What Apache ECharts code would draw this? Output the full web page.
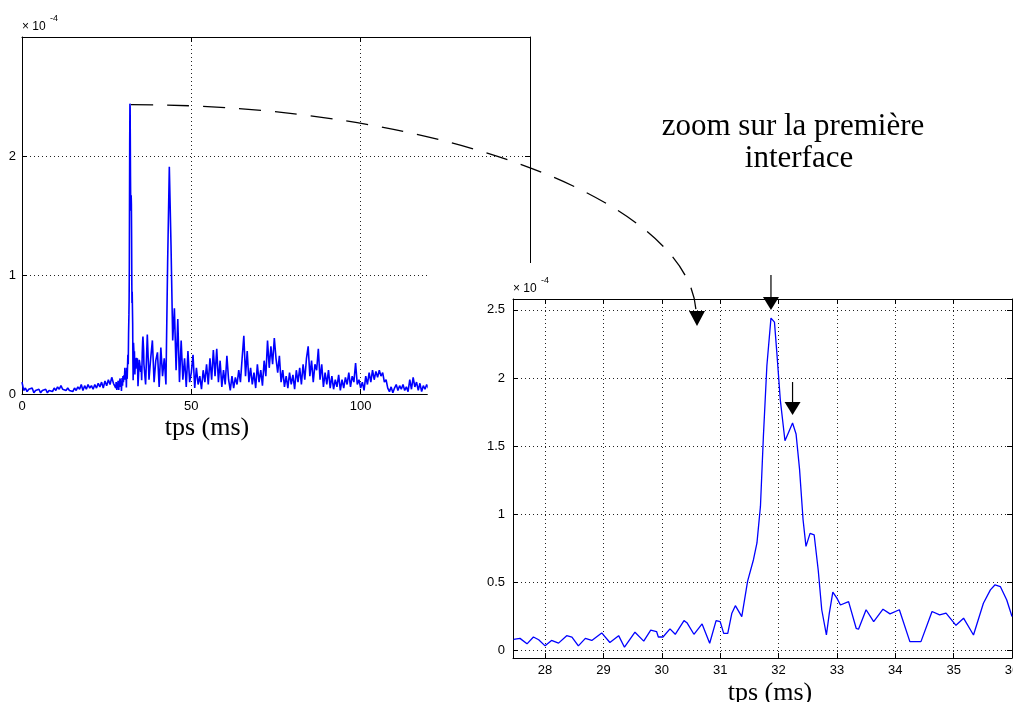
<!DOCTYPE html>
<html><head><meta charset="utf-8">
<script src="https://cdn.jsdelivr.net/npm/echarts@6/dist/echarts.min.js"></script>
<style>html,body{margin:0;padding:0;background:#fff}#c{width:1013px;height:702px}</style>
</head><body><div id="c"></div>
<script>
// ---------- data (values in units of 1e-4) ----------
const leftStep = 0.5;          // sampling step (ms) of the read-off full trace
const leftEarlyStart = 0;      // 0 .. 27 ms
const leftEarly = [
  0.10,0.03,0.05,0.02,0.04,0.03,0.05,0.01,0.03,0.02,
  0.04,0.01,0.03,0.02,0.04,0.01,0.03,0.04,0.02,0.05,
  0.03,0.06,0.04,0.07,0.04,0.05,0.03,0.05,0.03,0.04,
  0.02,0.05,0.03,0.06,0.04,0.08,0.03,0.07,0.04,0.08,
  0.05,0.07,0.04,0.08,0.05,0.09,0.06,0.10,0.05,0.11,
  0.07,0.12,0.08,0.14,0.09
];
const leftLateStart = 36.5;    // 36.5 .. 120 ms
const leftLate = [
  0.08,0.50,0.12,0.30,0.45,0.10,0.28,0.35,0.06,0.39,
  0.15,0.30,0.08,1.10,1.91,1.25,0.45,0.72,0.20,0.63,
  0.10,0.45,0.12,0.30,0.06,0.36,0.10,0.18,0.33,0.05,
  0.22,0.08,0.15,0.04,0.20,0.10,0.25,0.08,0.30,0.12,
  0.37,0.15,0.38,0.10,0.28,0.06,0.20,0.08,0.32,0.12,
  0.03,0.15,0.05,0.14,0.08,0.20,0.10,0.30,0.49,0.15,
  0.36,0.10,0.22,0.08,0.18,0.05,0.25,0.10,0.20,0.07,
  0.28,0.15,0.45,0.22,0.40,0.25,0.47,0.30,0.18,0.32,
  0.10,0.20,0.06,0.15,0.05,0.18,0.08,0.16,0.04,0.20,
  0.10,0.22,0.08,0.25,0.12,0.30,0.40,0.15,0.28,0.10,
  0.25,0.20,0.38,0.12,0.25,0.06,0.18,0.08,0.20,0.05,
  0.15,0.04,0.12,0.06,0.16,0.03,0.12,0.05,0.14,0.08,
  0.18,0.06,0.15,0.10,0.26,0.08,0.12,0.05,0.10,0.03,
  0.15,0.08,0.18,0.10,0.20,0.12,0.19,0.14,0.20,0.15,
  0.18,0.10,0.12,0.05,0.02,0.06,0.01,0.05,0.08,0.03,
  0.07,0.04,0.08,0.03,0.06,0.02,0.12,0.04,0.14,0.06,
  0.10,0.03,0.09,0.02,0.07,0.04,0.08,0.05
];
const zoomT = [27.46,27.57,27.69,27.80,27.89,28.00,28.11,28.23,28.37,28.46,
  28.57,28.69,28.80,28.97,29.11,29.26,29.36,29.54,29.69,29.81,
  29.91,29.94,30.02,30.14,30.23,30.38,30.43,30.55,30.69,30.82,
  30.93,31.00,31.06,31.13,31.20,31.26,31.37,31.47,31.57,31.63,
  31.69,31.74,31.80,31.87,31.93,31.97,32.03,32.11,32.16,32.24,
  32.30,32.36,32.42,32.47,32.54,32.61,32.68,32.74,32.82,32.87,
  32.93,33.00,33.06,33.20,33.33,33.37,33.50,33.63,33.79,33.91,
  34.07,34.25,34.44,34.63,34.76,34.87,35.04,35.17,35.34,35.51,
  35.63,35.71,35.80,35.91,36.00];
const zoomV = [0.083,0.09,0.05,0.10,0.08,0.035,0.075,0.055,0.11,0.10,
  0.035,0.09,0.075,0.13,0.06,0.11,0.025,0.135,0.07,0.15,
  0.14,0.10,0.10,0.16,0.12,0.22,0.205,0.12,0.196,0.054,
  0.22,0.213,0.127,0.127,0.275,0.33,0.25,0.51,0.667,0.79,
  1.06,1.57,2.09,2.44,2.41,2.19,1.84,1.54,1.59,1.67,
  1.59,1.33,0.96,0.765,0.86,0.85,0.59,0.30,0.115,0.275,
  0.43,0.385,0.335,0.36,0.164,0.157,0.30,0.213,0.304,0.27,
  0.30,0.066,0.066,0.287,0.262,0.275,0.186,0.238,0.115,0.348,
  0.446,0.483,0.47,0.372,0.25];
const zoomXTicks = [28,29,30,31,32,33,34,35,36];
const zoomYTicks = [0,0.5,1,1.5,2,2.5];
const peak1 = [31.87, 2.44];
const peak2 = [32.24, 1.67];
const xLabel = 'tps (ms)';
const noteLines = ['zoom sur la première', 'interface'];

// ---------- build ----------
const zoomData = zoomT.map((t, i) => [t, zoomV[i]]);
const leftData = [].concat(
  leftEarly.map((v, i) => [leftEarlyStart + i * leftStep, v]),
  zoomData,
  leftLate.map((v, i) => [leftLateStart + i * leftStep, v])
);

const LF = 'Liberation Sans, Arial, sans-serif';
const SERIF = 'Liberation Serif, Times New Roman, serif';
const BLK = '#000';
const dot = { type: [1, 3], color: '#222', width: 1 };
const TICKFONT = 13;

function xAx(grid, pos, opts, z) {
  return Object.assign({
    gridIndex: grid, type: 'value', position: pos, z: z,
    axisLine: { show: true, onZero: false, lineStyle: { color: BLK, width: 1 } },
    axisTick: { show: true, inside: true, length: 5, lineStyle: { color: BLK } },
    axisLabel: { show: pos === 'bottom', color: BLK, fontSize: TICKFONT, fontFamily: LF, margin: 6 },
    splitLine: { show: pos === 'bottom', lineStyle: dot }
  }, opts);
}
function yAx(grid, pos, opts, z) {
  return Object.assign({
    gridIndex: grid, type: 'value', position: pos, z: z,
    axisLine: { show: true, onZero: false, lineStyle: { color: BLK, width: 1 } },
    axisTick: { show: true, inside: true, length: 5, lineStyle: { color: BLK } },
    axisLabel: { show: pos === 'left', color: BLK, fontSize: TICKFONT, fontFamily: LF, margin: 7 },
    splitLine: { show: pos === 'left', lineStyle: dot }
  }, opts);
}

const chart = echarts.init(document.getElementById('c'), null, { renderer: 'canvas' });
const zoomTickOpts = function (vals, show, label, margin) {
  return {
    axisTick: { show: true, inside: true, length: 5, lineStyle: { color: BLK }, customValues: vals },
    axisLabel: { show: label, color: BLK, fontSize: TICKFONT, fontFamily: LF, margin: margin, customValues: vals },
    splitLine: { show: show, lineStyle: dot }
  };
};

const option = {
  animation: false,
  backgroundColor: '#fff',
  grid: [
    { left: 22, top: 37, width: 508, height: 357, z: 1, containLabel: false, outerBoundsMode: 'none' },
    { left: 513, top: 299, width: 499, height: 359, z: 10, containLabel: false, outerBoundsMode: 'none' }
  ],
  xAxis: [
    xAx(0, 'bottom', { min: 0, max: 150, interval: 50 }, 1),
    xAx(0, 'top', { min: 0, max: 150, interval: 50 }, 1),
    xAx(1, 'bottom', Object.assign({ min: 27.45, max: 36 }, zoomTickOpts(zoomXTicks, true, true, 6)), 10),
    xAx(1, 'top', Object.assign({ min: 27.45, max: 36 }, zoomTickOpts(zoomXTicks, false, false, 6)), 10)
  ],
  yAxis: [
    yAx(0, 'left', { min: 0, max: 3, interval: 1,
      axisLabel: { color: BLK, fontSize: TICKFONT, fontFamily: LF, margin: 6,
        formatter: function (v) { return v === 3 ? '' : String(v); } } }, 1),
    yAx(0, 'right', { min: 0, max: 3, interval: 1 }, 1),
    yAx(1, 'left', Object.assign({ min: -0.054, max: 2.58 }, zoomTickOpts(zoomYTicks, true, true, 8)), 10),
    yAx(1, 'right', Object.assign({ min: -0.054, max: 2.58 }, zoomTickOpts(zoomYTicks, false, false, 8)), 10)
  ],
  series: [
    { type: 'line', xAxisIndex: 0, yAxisIndex: 0, data: leftData, showSymbol: false, z: 2,
      lineStyle: { color: '#0000ff', width: 1.6 }, silent: true },
    { type: 'line', xAxisIndex: 2, yAxisIndex: 2, data: zoomData, showSymbol: false, z: 12,
      lineStyle: { color: '#0000ff', width: 1.3 }, silent: true }
  ]
};
chart.setOption(option);

// ---------- annotations placed through the chart's own scales ----------
const pL = chart.convertToPixel({ gridIndex: 0 }, peak1);
const pR1 = chart.convertToPixel({ gridIndex: 1 }, peak1);
const pR2 = chart.convertToPixel({ gridIndex: 1 }, peak2);
const cornerL = chart.convertToPixel({ gridIndex: 0 }, [0, 3]);
const cornerR = chart.convertToPixel({ gridIndex: 1 }, [27.45, 2.58]);
const coverX = chart.convertToPixel({ gridIndex: 0 }, [119.8, 0])[0];
const endPt = [697, 311];

function arrowDown(x, tipY, lineLen) {
  return [
    { type: 'line', z: 30, shape: { x1: x, y1: tipY - 13 - lineLen, x2: x, y2: tipY - 12 },
      style: { stroke: BLK, lineWidth: 1.2 } },
    { type: 'polygon', z: 30, shape: { points: [[x - 8, tipY - 13], [x + 8, tipY - 13], [x, tipY]] },
      style: { fill: BLK } }
  ];
}
function txt(x, y, text, font, align, valign) {
  return { type: 'text', x: x, y: y, z: 30,
    style: { text: text, font: font, fill: BLK, align: align, verticalAlign: valign,
      textAlign: align, textVerticalAlign: valign } };
}

const els = [
  // white inset panel hiding the lower-right part of the full trace
  { type: 'rect', z: 5, shape: { x: coverX, y: 263, width: 1013 - coverX, height: 702 - 263 },
    style: { fill: '#fff' } },
  // x10^-4 multipliers
  txt(cornerL[0], cornerL[1] - 4, '× 10', '12px ' + LF, 'left', 'bottom'),
  txt(cornerL[0] + 28, cornerL[1] - 14, '-4', '9px ' + LF, 'left', 'bottom'),
  txt(cornerR[0], cornerR[1] - 4, '× 10', '12px ' + LF, 'left', 'bottom'),
  txt(cornerR[0] + 28, cornerR[1] - 14, '-4', '9px ' + LF, 'left', 'bottom'),
  // axis titles
  txt(207, 428, xLabel, '26px ' + SERIF, 'center', 'middle'),
  txt(770, 693, xLabel, '26px ' + SERIF, 'center', 'middle'),
  // note
  txt(793, 127, noteLines[0], '31px ' + SERIF, 'center', 'middle'),
  txt(799, 159, noteLines[1], '31px ' + SERIF, 'center', 'middle'),
  // dashed connector
  { type: 'bezierCurve', z: 30,
    shape: { x1: pL[0] + 1, y1: pL[1] + 1, cpx1: 450, cpy1: pL[1] + 1, cpx2: 690, cpy2: 205, x2: endPt[0] - 1, y2: endPt[1] },
    style: { stroke: BLK, lineWidth: 1.3, lineDash: [22, 14], fill: null } },
  { type: 'polygon', z: 30, shape: { points: [[endPt[0] - 8, endPt[1]], [endPt[0] + 8, endPt[1]], [endPt[0], endPt[1] + 15]] },
    style: { fill: BLK } }
].concat(arrowDown(pR1[0], pR1[1] - 8, 22), arrowDown(pR2[0], pR2[1] - 8, 20));

chart.setOption({ graphic: { elements: els } });
</script></body></html>
